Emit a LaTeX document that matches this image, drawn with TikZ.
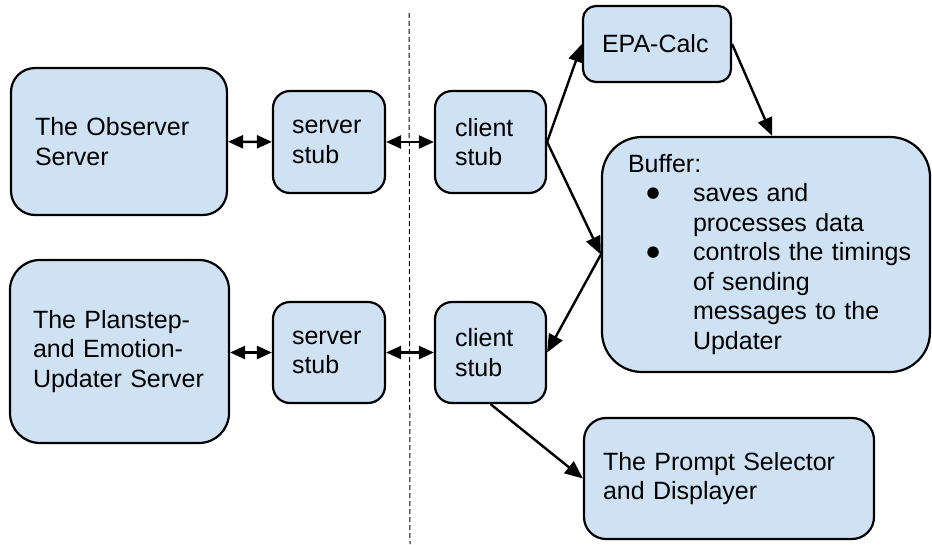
\documentclass[tikz,border=0pt]{standalone}
\usepackage{fontspec}
\setmainfont{Liberation Sans}
\newfontfamily\dotfont{DejaVu Sans}
\usepackage{tikz}
\usetikzlibrary{arrows.meta}
\definecolor{boxblue}{HTML}{CFE2F3}
\newcommand{\bufbullet}{\makebox[65pt][l]{\hspace{18.5pt}\raisebox{4pt}{\dotfont\fontsize{15}{15}\selectfont ●}}}
\newcommand{\bufindent}{\hspace*{65pt}}

\begin{document}
\begin{tikzpicture}[x=1pt,y=-1pt,
		box/.style={draw,fill=boxblue,line width=2.2pt,align=left,inner ysep=0pt,
			font=\fontsize{25}{29.5}\selectfont},
		link/.style={line width=2.4pt,{Triangle[length=15pt,width=13pt]}-{Triangle[length=15pt,width=13pt]}},
		flow/.style={line width=2.4pt,-{Triangle[length=18pt,width=15pt]}}]
		\useasboundingbox (0,0) rectangle (932,544);
		\coordinate (cuttop) at (409,13);
		\coordinate (cutbot) at (410,544);
		\draw[line width=1pt,dash pattern=on 5pt off 3pt] (cuttop) -- (cutbot);
		\node[box,rounded corners=24pt,inner xsep=24pt,text width=168pt,minimum width=216pt,minimum height=147pt] (obs) at (119,141.5) {The Observer\\Server};
		\node[box,rounded corners=17pt,inner xsep=19pt,text width=74pt,minimum width=112pt,minimum height=102pt] (ss1) at (329,142) {server\\stub};
		\node[box,rounded corners=17pt,inner xsep=20pt,text width=71pt,minimum width=111pt,minimum height=102pt] (cs1) at (490.5,142) {client\\stub};
		\node[box,rounded corners=13pt,inner xsep=19pt,text width=110pt,minimum width=148pt,minimum height=76pt] (epa) at (657,44) {EPA-Calc};
		\node[box,rounded corners=40pt,inner xsep=26pt,text width=276pt,minimum width=328pt,minimum height=235pt] (buf) at (766,254.5) {Buffer:\\
			\bufbullet\mbox{saves and}\\
			\bufindent\mbox{processes data}\\
			\bufbullet\mbox{controls the timings}\\
			\bufindent\mbox{of sending}\\
			\bufindent\mbox{messages to the}\\
			\bufindent\mbox{Updater}};
		\node[box,rounded corners=30pt,inner xsep=23pt,text width=173pt,minimum width=219pt,minimum height=183pt] (pln) at (119.5,351.5) {The Planstep-\\and Emotion-\\\mbox{Updater Server}};
		\node[box,rounded corners=17pt,inner xsep=19pt,text width=74pt,minimum width=112pt,minimum height=101pt] (ss2) at (329,352.5) {server\\stub};
		\node[box,rounded corners=17pt,inner xsep=20pt,text width=71pt,minimum width=111pt,minimum height=101pt] (cs2) at (490.5,352.5) {client\\stub};
		\node[box,rounded corners=22pt,inner xsep=19pt,text width=252pt,minimum width=290pt,minimum height=121pt] (prm) at (729,478.5) {The Prompt Selector\\and Displayer};
		\draw[link] (obs) -- (ss1);
		\draw[link] (ss1) -- (cs1);
		\draw[link] (pln.east |- ss2) -- (ss2);
		\draw[link] (ss2) -- (cs2);
		\draw[flow] (cs1.east) -- (epa.west);
		\draw[flow] (epa.east) -- (buf.87);
		\draw[flow] (cs1.east) -- (buf.west);
		\draw[flow] (buf.west) -- (cs2.east);
		\draw[flow] (cs2.south) -- (prm.west);
	\end{tikzpicture}
\end{document}
